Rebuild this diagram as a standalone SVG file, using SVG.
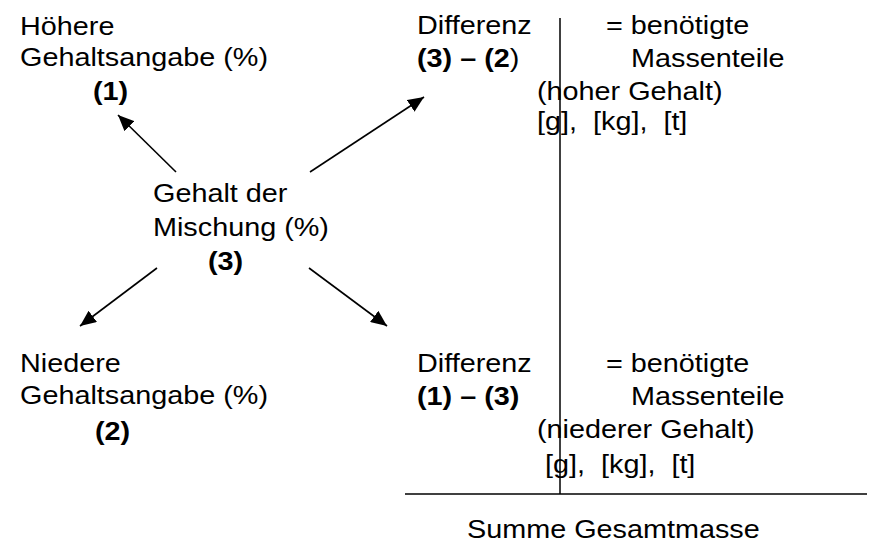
<svg xmlns="http://www.w3.org/2000/svg" width="870" height="542" viewBox="0 0 870 542">
  <style>
    text { font-family: "Liberation Sans", Arial, sans-serif; font-size: 26.5px; fill: #000; white-space: pre; }
    .b { font-weight: bold; }
    .ln { stroke: #000; stroke-width: 1.5; fill: none; }
    .arr { stroke: #000; stroke-width: 1.6; fill: none; marker-end: url(#head); }
  </style>
  <defs>
    <marker id="head" markerUnits="userSpaceOnUse" markerWidth="18" markerHeight="14" refX="16" refY="7" orient="auto">
      <path d="M0,0 L16,7 L0,14 Z" fill="#000"/>
    </marker>
  </defs>

  <rect width="870" height="542" fill="#fff"/>

  <!-- mixing cross: connectors -->
  <g id="connectors">
    <line class="arr" x1="176" y1="172" x2="118" y2="115"/>
    <line class="arr" x1="310" y1="172" x2="424" y2="97"/>
    <line class="arr" x1="157" y1="268" x2="80" y2="326"/>
    <line class="arr" x1="309" y1="268" x2="387" y2="326"/>
    <!-- table lines -->
    <line class="ln" x1="560" y1="18" x2="560" y2="494"/>
    <line class="ln" x1="405" y1="494" x2="867" y2="494"/>
  </g>

  <g id="high-content">
    <text transform="translate(20 35) scale(1.087 1)">Höhere</text>
    <text transform="translate(20 66) scale(1.087 1)">Gehaltsangabe (%)</text>
    <text class="b" transform="translate(93 100) scale(1.087 1)">(1)</text>
  </g>

  <g id="mixture">
    <text transform="translate(153 202) scale(1.087 1)">Gehalt der</text>
    <text transform="translate(153 236) scale(1.087 1)">Mischung (%)</text>
    <text class="b" transform="translate(208 270) scale(1.087 1)">(3)</text>
  </g>

  <g id="low-content">
    <text transform="translate(20 372) scale(1.087 1)">Niedere</text>
    <text transform="translate(20 404) scale(1.087 1)">Gehaltsangabe (%)</text>
    <text class="b" transform="translate(95 440) scale(1.087 1)">(2)</text>
  </g>

  <g id="diff-high">
    <text transform="translate(417 34) scale(1.087 1)">Differenz</text>
    <text transform="translate(417 67) scale(1.087 1)"><tspan class="b">(3) – (2</tspan>)</text>
  </g>

  <g id="parts-high">
    <text transform="translate(606 34) scale(1.087 1)">= benötigte</text>
    <text transform="translate(631 67) scale(1.087 1)">Massenteile</text>
    <text transform="translate(537 100) scale(1.087 1)">(hoher Gehalt)</text>
    <text transform="translate(537 130) scale(1.087 1)">[g],  [kg],  [t]</text>
  </g>

  <g id="diff-low">
    <text transform="translate(417 372) scale(1.087 1)">Differenz</text>
    <text class="b" transform="translate(417 405) scale(1.087 1)">(1) – (3)</text>
  </g>

  <g id="parts-low">
    <text transform="translate(606 372) scale(1.087 1)">= benötigte</text>
    <text transform="translate(631 405) scale(1.087 1)">Massenteile</text>
    <text transform="translate(537 438) scale(1.087 1)">(niederer Gehalt)</text>
    <text transform="translate(545 473) scale(1.087 1)">[g],  [kg],  [t]</text>
  </g>

  <g id="total">
    <text transform="translate(467 538) scale(1.087 1)">Summe Gesamtmasse</text>
  </g>
</svg>
